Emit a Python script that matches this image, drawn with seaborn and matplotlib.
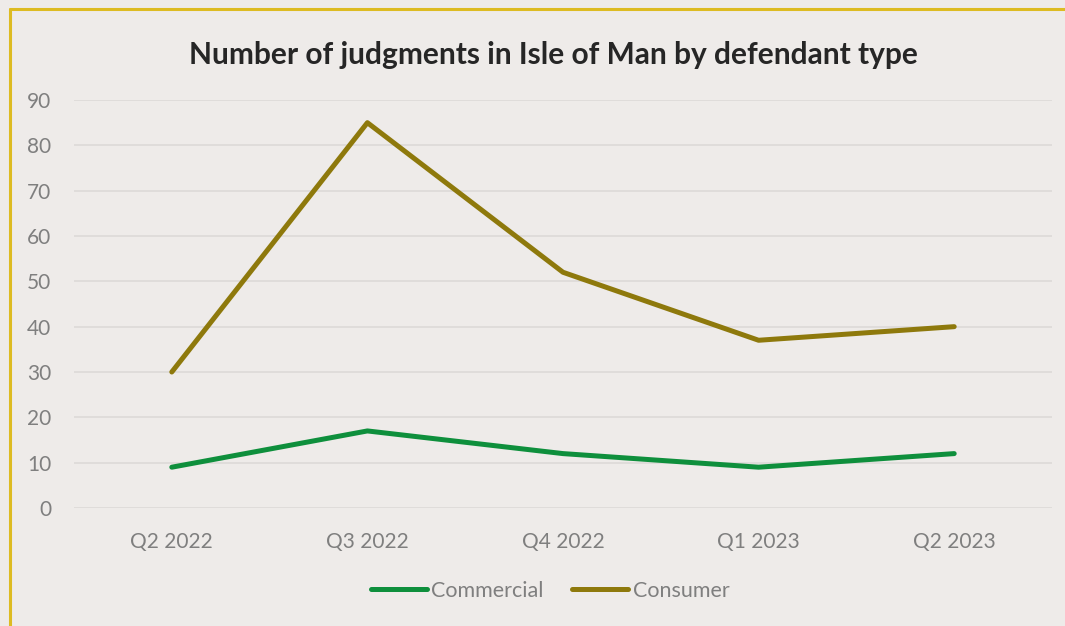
import matplotlib
matplotlib.use("Agg")
import matplotlib.pyplot as plt
import seaborn as sns
import pandas as pd
from matplotlib.lines import Line2D

quarters = ["Q2 2022", "Q3 2022", "Q4 2022", "Q1 2023", "Q2 2023"]
commercial = [9, 17, 12, 9, 12]
consumer = [30, 85, 52, 37, 40]
series_names = ["Commercial", "Consumer"]
yticks = [0, 10, 20, 30, 40, 50, 60, 70, 80, 90]

bg = "#EEEBE9"
colors = {"Commercial": "#0E8F3C", "Consumer": "#8E790C"}

sns.set_theme(style="white")
plt.rcParams["font.family"] = ["Lato", "DejaVu Sans"]

df = pd.DataFrame({
    "quarter": quarters * 2,
    "x": list(range(len(quarters))) * 2,
    "value": commercial + consumer,
    "series": [series_names[0]] * len(quarters) + [series_names[1]] * len(quarters),
})

fig = plt.figure(figsize=(10.65, 6.26), dpi=100, facecolor=bg)
ax = fig.add_axes([74/1065, 1 - 508/626, (1052-74)/1065, (508-100)/626])
ax.set_facecolor(bg)

sns.lineplot(data=df, x="x", y="value", hue="series", palette=colors,
             linewidth=3.6, ax=ax, legend=False, sort=False)
for line in ax.get_lines():
    line.set_solid_capstyle("round")

ax.set_xlim(-0.5, len(quarters) - 0.5)
ax.set_ylim(0, 90)
ax.set_yticks(yticks)
ax.set_xticks(range(len(quarters)))
ax.set_xticklabels(quarters)
ax.yaxis.grid(True, color="#DDDAD8", linewidth=1.2)
ax.set_axisbelow(True)
for s in ax.spines.values():
    s.set_visible(False)
ax.tick_params(axis="both", colors="#7F7F7F", labelsize=15, length=0)
ax.tick_params(axis="x", pad=17)
ax.tick_params(axis="y", pad=16.5)
for lbl in ax.get_yticklabels():
    lbl.set_horizontalalignment("right")
ax.set_xlabel("")
ax.set_ylabel("")

fig.text(553/1065, 1 - 55/626, "Number of judgments in Isle of Man by defendant type",
         ha="center", va="center", fontsize=21.5, fontweight="bold", color="#262626")

handles = [Line2D([0], [0], color=colors[n], linewidth=3.6, solid_capstyle="round") for n in series_names]
fig.legend(handles, series_names, loc="center", bbox_to_anchor=(550/1065, 1 - 591/626),
           ncol=2, frameon=False, fontsize=15.5, labelcolor="#7F7F7F",
           handlelength=2.6, handletextpad=0.2, columnspacing=1.35)

# frame border (left and top visible)
fig.add_artist(Line2D([10/1065, 10/1065], [0, 1 - 9/626], transform=fig.transFigure,
                      color="#DDBB22", linewidth=2.2))
fig.add_artist(Line2D([10/1065, 1], [1 - 9/626, 1 - 9/626], transform=fig.transFigure,
                      color="#DDBB22", linewidth=2.2))

fig.savefig("out.png", dpi=100, facecolor=bg)
